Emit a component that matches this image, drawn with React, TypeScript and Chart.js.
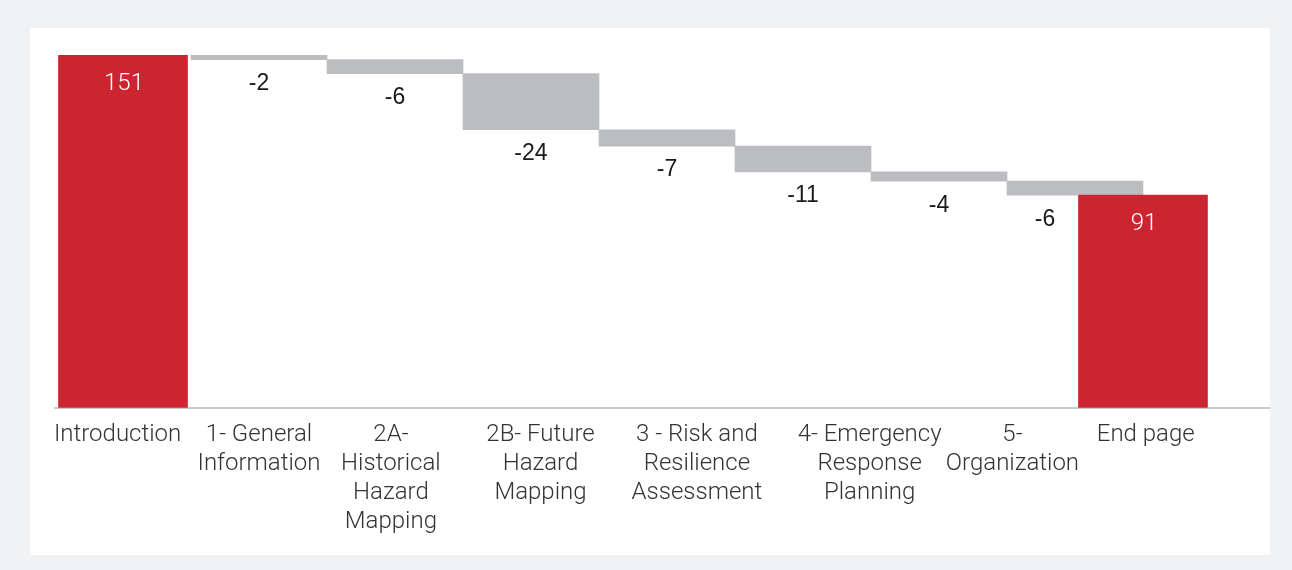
import React, { useEffect, useRef } from "react";
import { Chart, registerables } from "chart.js";

Chart.register(...registerables);

// ---- data ----
const CATEGORY_LABELS: string[][] = [
  ["Introduction"],
  ["1- General", "Information"],
  ["2A-", "Historical", "Hazard", "Mapping"],
  ["2B- Future", "Hazard", "Mapping"],
  ["3 - Risk and", "Resilience", "Assessment"],
  ["4- Emergency", "Response", "Planning"],
  ["5-", "Organization"],
  ["End page"],
];
const START_TOTAL = 151;
const STEP_CHANGES = [-2, -6, -24, -7, -11, -4, -6];
const END_TOTAL = 91;

// ---- layout (options only) ----
const TICK_AT = [-0.04, 1.0, 1.97, 3.07, 4.22, 5.49, 6.54, 7.52];
const END_SLOT = STEP_CHANGES.length + 0.5;
const RED = "#cc2531";
const GREY = "#bcbdc0";
const FONT = "Roboto";

export default function App() {
  const ref = useRef<HTMLCanvasElement>(null);

  useEffect(() => {
    if (!ref.current) return;
    let running = START_TOTAL;
    const steps = STEP_CHANGES.map((d, i) => {
      const before = running;
      running += d;
      return { x: i + 1, y: [running, before] };
    });

    const labelPlugin = {
      id: "valueLabels",
      afterDatasetsDraw(chart: any) {
        const ctx = chart.ctx;
        ctx.save();
        ctx.textAlign = "center";
        ctx.textBaseline = "middle";
        const totals = chart.getDatasetMeta(0);
        const totalVals = [START_TOTAL, END_TOTAL];
        ctx.font = `300 24px ${FONT}`;
        ctx.fillStyle = "#ffffff";
        totals.data.forEach((el: any, i: number) => {
          const top = Math.min(el.y, el.base);
          ctx.fillText(String(totalVals[i]), el.x + 1, top + 29);
        });
        const meta = chart.getDatasetMeta(1);
        ctx.fillStyle = "#1a1a1a";
        ctx.font = `400 23px "Liberation Sans", Arial, sans-serif`;
        meta.data.forEach((el: any, i: number) => {
          const bottom = Math.max(el.y, el.base);
          const shift = i === meta.data.length - 1 ? -30 : 0;
          ctx.fillText(String(STEP_CHANGES[i]), el.x + shift, bottom + 24);
        });
        ctx.restore();
      },
    };

    const chart = new Chart(ref.current, {
      type: "bar",
      data: {
        datasets: [
          {
            label: "Total",
            data: [
              { x: 0, y: [0, START_TOTAL] },
              { x: END_SLOT, y: [0, END_TOTAL] },
            ] as any,
            backgroundColor: RED,
            barThickness: 129,
            grouped: false,
          } as any,
          {
            label: "Change",
            data: steps as any,
            backgroundColor: GREY,
            barThickness: 136,
            grouped: false,
          } as any,
        ],
      },
      options: {
        responsive: false,
        animation: false,
        layout: { padding: { left: 25, right: 0, top: 27, bottom: 6 } },
        plugins: {
          legend: { display: false },
          tooltip: { enabled: false },
        },
        scales: {
          x: {
            type: "linear",
            offset: false,
            min: -0.5,
            max: 8.434,
            afterBuildTicks: (scale: any) => {
              scale.ticks = TICK_AT.map((v) => ({ value: v }));
            },
            grid: { display: false, drawTicks: false, offset: false },
            border: { display: true, color: "#c8c9cb", width: 2 },
            ticks: {
              autoSkip: false,
              maxRotation: 0,
              minRotation: 0,
              padding: 13,
              color: "#333333",
              font: { family: FONT, size: 24, weight: 300 as any, lineHeight: 1.2 },
              callback: (_v: any, i: number) => CATEGORY_LABELS[i],
            },
          },
          y: {
            display: false,
            min: 0,
            max: START_TOTAL,
          },
        },
      },
      plugins: [labelPlugin],
    });
    return () => chart.destroy();
  }, []);

  return (
    <div
      style={{
        position: "absolute",
        left: 0,
        top: 0,
        width: 1292,
        height: 570,
        background: "#f1f2f4",
      }}
    >
      <div
        style={{
          position: "absolute",
          left: 30,
          top: 28,
          width: 1240,
          height: 527,
          background: "#ffffff",
        }}
      >
        <canvas ref={ref} width={1240} height={527} style={{ display: "block" }} />
      </div>
    </div>
  );
}
